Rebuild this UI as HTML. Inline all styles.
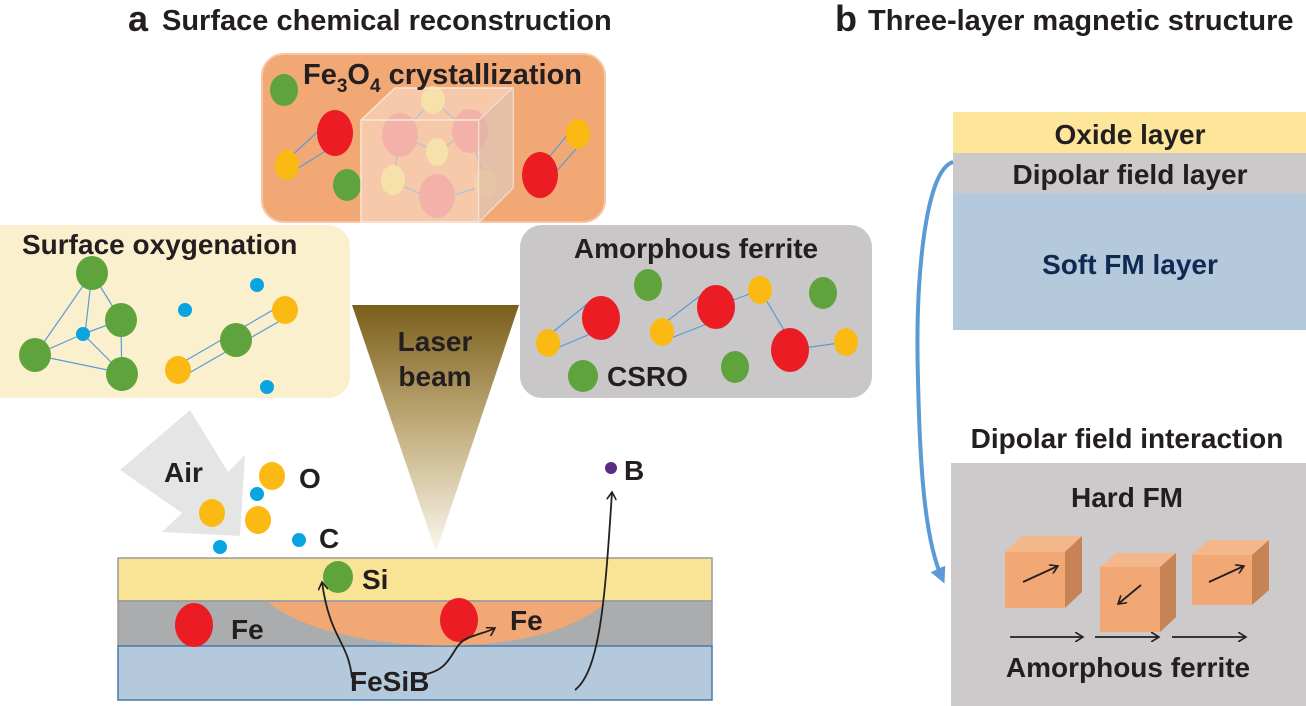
<!DOCTYPE html>
<html><head><meta charset="utf-8"><style>
body{margin:0;background:#fff}
svg{display:block}
text{font-family:"Liberation Sans",Arial,sans-serif;font-weight:bold;fill:#231f20}
</style></head><body>
<svg width="1306" height="706" viewBox="0 0 1306 706" xmlns="http://www.w3.org/2000/svg">
<defs>
<linearGradient id="lb" x1="0" y1="0" x2="0" y2="1">
<stop offset="0" stop-color="#7a5f1c"/><stop offset="0.5" stop-color="#c2ad7c"/><stop offset="1" stop-color="#fbf8ef"/>
</linearGradient>
<marker id="ah" markerWidth="10" markerHeight="10" refX="8" refY="5" orient="auto" markerUnits="userSpaceOnUse">
<path d="M0,0 L8,5 L0,10" fill="none" stroke="#231f20" stroke-width="1.6"/></marker>
<marker id="bh" markerWidth="20" markerHeight="20" refX="10" refY="10" orient="auto" markerUnits="userSpaceOnUse">
<path d="M0,2 L16,10 L0,18 Z" fill="#5a9bd5"/></marker>
</defs>

<!-- titles -->
<text x="128" y="31" font-size="36">a</text>
<text x="162" y="30" font-size="29">Surface chemical reconstruction</text>
<text x="835" y="31" font-size="36">b</text>
<text x="868" y="30" font-size="29">Three-layer magnetic structure</text>

<!-- Fe3O4 box -->
<rect x="262" y="54" width="343" height="168" rx="22" fill="#f2a874" stroke="#f6c6a4" stroke-width="2"/>
<g stroke="#5b9bd5" stroke-width="1.2">
<line x1="287" y1="160" x2="325" y2="125"/><line x1="292" y1="172" x2="335" y2="145"/>
<line x1="540" y1="168" x2="574" y2="127"/><line x1="546" y1="183" x2="584" y2="140"/>
</g>
<ellipse cx="284" cy="90" rx="14" ry="16" fill="#5fa33c"/>
<ellipse cx="335" cy="133" rx="18" ry="23" fill="#ec1c24"/>
<ellipse cx="287" cy="165" rx="12" ry="15" fill="#fbb913"/>
<ellipse cx="347" cy="185" rx="14" ry="16" fill="#5fa33c"/>
<ellipse cx="578" cy="134" rx="12" ry="15" fill="#fbb913"/>
<ellipse cx="540" cy="175" rx="18" ry="23" fill="#ec1c24"/>
<g stroke="#5b9bd5" stroke-width="1.2">
<line x1="433" y1="100" x2="405" y2="130"/><line x1="433" y1="100" x2="465" y2="128"/>
<line x1="400" y1="135" x2="437" y2="152"/><line x1="470" y1="130" x2="437" y2="152"/>
<line x1="400" y1="140" x2="393" y2="178"/><line x1="470" y1="135" x2="485" y2="180"/>
<line x1="393" y1="182" x2="430" y2="198"/><line x1="485" y1="185" x2="445" y2="198"/>
</g>
<ellipse cx="433" cy="100" rx="12" ry="14" fill="#f6dd78"/>
<ellipse cx="400" cy="135" rx="18" ry="22" fill="#ec7577"/>
<ellipse cx="470" cy="131" rx="18" ry="22" fill="#ec7577"/>
<ellipse cx="437" cy="152" rx="11" ry="14" fill="#f6dd78"/>
<ellipse cx="393" cy="180" rx="12" ry="15" fill="#f6dd78"/>
<ellipse cx="485" cy="183" rx="11" ry="14" fill="#e8c86a"/>
<ellipse cx="437" cy="196" rx="18" ry="22" fill="#ec7577"/>
<path d="M361,120 L395,88 L513,88 L513,188 L479,222 L361,222 Z" fill="#f8e4d6" fill-opacity="0.55" stroke="#fbe6d8" stroke-width="1.5"/>
<path d="M361,120 L479,120 L479,222 M479,120 L513,88" fill="none" stroke="#fbe6d8" stroke-width="1.5"/>
<path d="M479,120 L513,88 L513,188 L479,222 Z" fill="#d7b5a8" fill-opacity="0.5"/>
<text x="303" y="84" font-size="29">Fe<tspan font-size="19" dy="8">3</tspan><tspan dy="-8">O</tspan><tspan font-size="19" dy="8">4</tspan><tspan dy="-8"> crystallization</tspan></text>

<!-- Surface oxygenation -->
<rect x="-20" y="225" width="370" height="173" rx="22" fill="#fbf0ce"/>
<text x="22" y="254" font-size="28">Surface oxygenation</text>
<g stroke="#5b9bd5" stroke-width="1.2">
<line x1="92" y1="273" x2="35" y2="355"/><line x1="92" y1="273" x2="85" y2="334"/>
<line x1="92" y1="273" x2="121" y2="320"/><line x1="121" y1="320" x2="122" y2="390"/>
<line x1="83" y1="334" x2="35" y2="355"/><line x1="83" y1="334" x2="121" y2="320"/>
<line x1="83" y1="334" x2="122" y2="373"/><line x1="35" y1="355" x2="122" y2="373"/>
<line x1="178" y1="365" x2="285" y2="303"/><line x1="182" y1="377" x2="285" y2="318"/>
</g>
<ellipse cx="92" cy="273" rx="16" ry="17" fill="#5fa33c"/>
<ellipse cx="121" cy="320" rx="16" ry="17" fill="#5fa33c"/>
<ellipse cx="35" cy="355" rx="16" ry="17" fill="#5fa33c"/>
<ellipse cx="122" cy="374" rx="16" ry="17" fill="#5fa33c"/>
<circle cx="83" cy="334" r="7" fill="#0aa4e0"/>
<ellipse cx="236" cy="340" rx="16" ry="17" fill="#5fa33c"/>
<ellipse cx="285" cy="310" rx="13" ry="14" fill="#fbb913"/>
<ellipse cx="178" cy="370" rx="13" ry="14" fill="#fbb913"/>
<circle cx="185" cy="310" r="7" fill="#0aa4e0"/>
<circle cx="257" cy="285" r="7" fill="#0aa4e0"/>
<circle cx="267" cy="387" r="7" fill="#0aa4e0"/>

<!-- Amorphous ferrite -->
<rect x="520" y="225" width="352" height="173" rx="22" fill="#c9c7c8"/>
<text x="696" y="258" font-size="28" text-anchor="middle">Amorphous ferrite</text>
<g stroke="#5b9bd5" stroke-width="1.2">
<line x1="548" y1="336" x2="592" y2="300"/><line x1="552" y1="350" x2="600" y2="330"/>
<line x1="662" y1="325" x2="705" y2="292"/><line x1="666" y1="340" x2="712" y2="322"/>
<line x1="715" y1="307" x2="760" y2="290"/><line x1="760" y1="290" x2="790" y2="340"/>
<line x1="790" y1="350" x2="846" y2="342"/>
</g>
<ellipse cx="648" cy="285" rx="14" ry="16" fill="#5fa33c"/>
<ellipse cx="823" cy="293" rx="14" ry="16" fill="#5fa33c"/>
<ellipse cx="735" cy="367" rx="14" ry="16" fill="#5fa33c"/>
<ellipse cx="583" cy="376" rx="15" ry="16" fill="#5fa33c"/>
<ellipse cx="601" cy="318" rx="19" ry="22" fill="#ec1c24"/>
<ellipse cx="716" cy="307" rx="19" ry="22" fill="#ec1c24"/>
<ellipse cx="790" cy="350" rx="19" ry="22" fill="#ec1c24"/>
<ellipse cx="548" cy="343" rx="12" ry="14" fill="#fbb913"/>
<ellipse cx="662" cy="332" rx="12" ry="14" fill="#fbb913"/>
<ellipse cx="760" cy="290" rx="12" ry="14" fill="#fbb913"/>
<ellipse cx="846" cy="342" rx="12" ry="14" fill="#fbb913"/>
<text x="607" y="386" font-size="28">CSRO</text>

<!-- laser beam -->
<path d="M352,305 L519,305 L436,552 Z" fill="url(#lb)"/>
<text x="435" y="351" font-size="28" text-anchor="middle">Laser</text>
<text x="435" y="386" font-size="28" text-anchor="middle">beam</text>

<!-- Air arrow -->
<path d="M190,410 L228,472 L245,455 L240,536 L162,532 L182,513 L120,470 Z" fill="#e5e5e5"/>
<text x="164" y="482" font-size="28">Air</text>
<ellipse cx="272" cy="476" rx="13" ry="14" fill="#fbb913"/>
<ellipse cx="212" cy="513" rx="13" ry="14" fill="#fbb913"/>
<ellipse cx="258" cy="520" rx="13" ry="14" fill="#fbb913"/>
<circle cx="257" cy="494" r="7" fill="#0aa4e0"/>
<circle cx="220" cy="547" r="7" fill="#0aa4e0"/>
<circle cx="299" cy="540" r="7" fill="#0aa4e0"/>
<text x="299" y="488" font-size="28">O</text>
<text x="319" y="548" font-size="28">C</text>
<circle cx="611" cy="468" r="6" fill="#5b2a86"/>
<text x="624" y="480" font-size="28">B</text>

<!-- layers -->
<rect x="118" y="558" width="594" height="43" fill="#f9e394" stroke="#9a9a9a" stroke-width="1.5"/>
<rect x="118" y="601" width="594" height="45" fill="#abacae" stroke="#9a9a9a" stroke-width="1.5"/>
<rect x="118" y="646" width="594" height="54" fill="#b5c9dd" stroke="#4a7aa8" stroke-width="1.5"/>
<path d="M268,602 C330,655 540,665 606,602 Z" fill="#f2a874"/>
<ellipse cx="338" cy="577" rx="15" ry="16" fill="#5fa33c"/>
<text x="362" y="589" font-size="28">Si</text>
<ellipse cx="194" cy="625" rx="19" ry="22" fill="#ec1c24"/>
<text x="231" y="639" font-size="28">Fe</text>
<ellipse cx="459" cy="620" rx="19" ry="22" fill="#ec1c24"/>
<text x="510" y="630" font-size="28">Fe</text>
<text x="350" y="691" font-size="28">FeSiB</text>
<g fill="none" stroke="#231f20" stroke-width="1.8" marker-end="url(#ah)">
<path d="M352,678 C348,640 330,640 322,582"/>
<path d="M422,675 C455,670 450,645 468,638 C480,633 488,632 495,628"/>
<path d="M575,690 C600,670 605,600 612,492"/>
</g>

<!-- right panel -->
<rect x="953" y="112" width="353" height="41" fill="#fde59a"/>
<rect x="953" y="153" width="353" height="40" fill="#ccc9ca"/>
<rect x="953" y="193" width="353" height="137" fill="#b5c9dd"/>
<text x="1130" y="144" font-size="28" text-anchor="middle">Oxide layer</text>
<text x="1130" y="184" font-size="28" text-anchor="middle">Dipolar field layer</text>
<text x="1130" y="274" font-size="28" text-anchor="middle" style="fill:#0f2a52">Soft FM layer</text>
<path d="M953,162 C925,170 915,280 918,380 C920,470 925,540 942,578" fill="none" stroke="#5a9bd5" stroke-width="4" marker-end="url(#bh)"/>
<text x="1127" y="448" font-size="28" text-anchor="middle">Dipolar field interaction</text>
<rect x="951" y="463" width="355" height="243" fill="#cccaca"/>
<text x="1127" y="507" font-size="28" text-anchor="middle">Hard FM</text>
<g>
<path d="M1005,552 L1022,536 L1082,536 L1082,592 L1065,608 L1005,608 Z" fill="#f2a874"/>
<path d="M1005,552 L1022,536 L1082,536 L1065,552 Z" fill="#f4b78c"/>
<path d="M1065,552 L1082,536 L1082,592 L1065,608 Z" fill="#c68355"/>
<path d="M1100,567 L1117,553 L1176,553 L1176,617 L1160,632 L1100,632 Z" fill="#f2a874"/>
<path d="M1100,567 L1117,553 L1176,553 L1160,567 Z" fill="#f4b78c"/>
<path d="M1160,567 L1176,553 L1176,617 L1160,632 Z" fill="#c68355"/>
<path d="M1192,555 L1209,540 L1269,540 L1269,590 L1252,605 L1192,605 Z" fill="#f2a874"/>
<path d="M1192,555 L1209,540 L1269,540 L1252,555 Z" fill="#f4b78c"/>
<path d="M1252,555 L1269,540 L1269,590 L1252,605 Z" fill="#c68355"/>
</g>
<g fill="none" stroke="#231f20" stroke-width="1.8" marker-end="url(#ah)">
<line x1="1023" y1="582" x2="1058" y2="566"/>
<line x1="1141" y1="585" x2="1118" y2="604"/>
<line x1="1209" y1="582" x2="1244" y2="566"/>
<line x1="1010" y1="637" x2="1083" y2="637"/>
<line x1="1095" y1="637" x2="1159" y2="637"/>
<line x1="1172" y1="637" x2="1246" y2="637"/>
</g>
<text x="1128" y="677" font-size="28" text-anchor="middle">Amorphous ferrite</text>
</svg>
</body></html>
